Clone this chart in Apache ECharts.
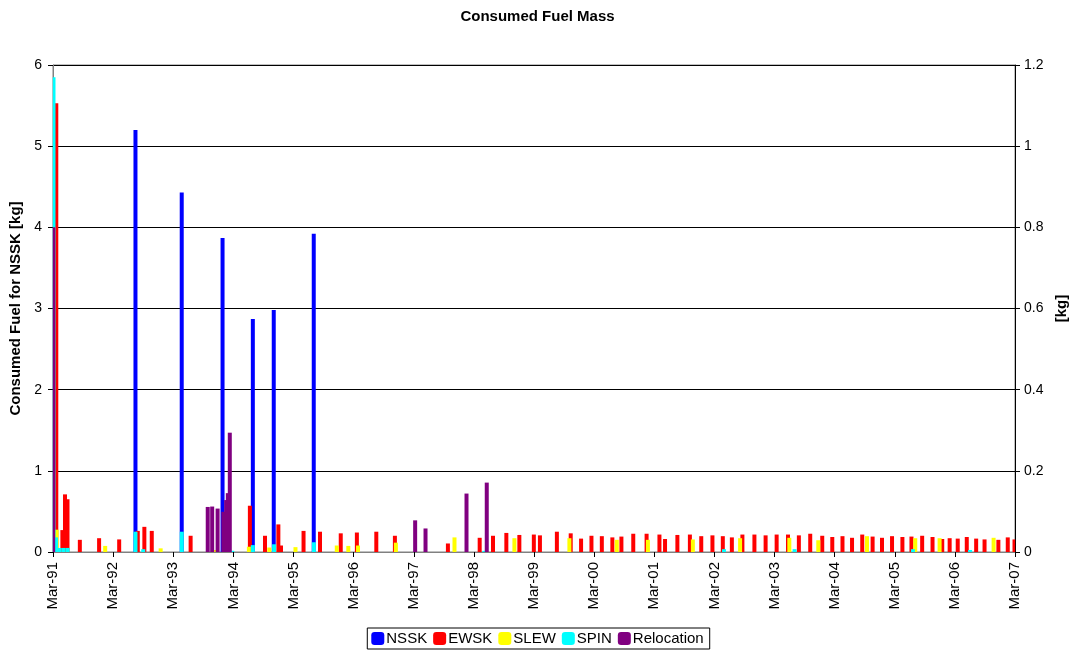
<!DOCTYPE html>
<html>
<head>
<meta charset="utf-8">
<script src="https://cdn.jsdelivr.net/npm/echarts@6/dist/echarts.min.js"></script>
<style>
  html, body { margin: 0; padding: 0; background: #fff; }
  #chart { width: 1075px; height: 653px; }
</style>
</head>
<body>
<div id="chart"></div>
<script>
// Manoeuvre fuel consumption, one bar per manoeuvre date.
// NSSK on the left axis, the other manoeuvre types on the right axis.

const axisStart = '1991-03-01';
const yearLabels = ['Mar-91','Mar-92','Mar-93','Mar-94','Mar-95','Mar-96','Mar-97','Mar-98',
  'Mar-99','Mar-00','Mar-01','Mar-02','Mar-03','Mar-04','Mar-05','Mar-06','Mar-07'];

const nsskData = [
  ['1992-07-14', 5.20], ['1993-04-21', 4.43], ['1993-12-25', 3.87],
  ['1994-06-27', 2.87], ['1994-11-01', 2.98], ['1995-07-02', 3.92]
];

const ewskData = [
  ['1991-03-21', 1.106], ['1991-04-27', 0.054], ['1991-05-13', 0.142], ['1991-05-28', 0.130],
  ['1991-08-11', 0.030], ['1991-12-06', 0.034], ['1992-04-06', 0.031], ['1992-07-28', 0.052],
  ['1992-09-06', 0.062], ['1992-10-21', 0.052], ['1993-06-14', 0.040], ['1994-06-09', 0.114],
  ['1994-09-09', 0.040], ['1994-11-29', 0.068], ['1994-12-15', 0.016], ['1995-05-01', 0.052],
  ['1995-08-09', 0.050], ['1995-12-13', 0.046], ['1996-03-20', 0.048], ['1996-07-16', 0.050],
  ['1996-11-06', 0.040], ['1997-09-24', 0.021], ['1998-04-05', 0.035], ['1998-06-25', 0.040],
  ['1998-09-14', 0.047], ['1998-12-02', 0.042], ['1999-02-28', 0.043], ['1999-04-06', 0.041],
  ['1999-07-18', 0.050], ['1999-10-10', 0.046], ['1999-12-12', 0.033], ['2000-02-13', 0.040],
  ['2000-04-16', 0.039], ['2000-06-19', 0.036], ['2000-08-13', 0.038], ['2000-10-24', 0.045],
  ['2001-01-13', 0.045], ['2001-04-01', 0.043], ['2001-05-05', 0.032], ['2001-07-19', 0.042],
  ['2001-10-03', 0.043], ['2001-12-11', 0.039], ['2002-02-17', 0.041], ['2002-04-21', 0.039],
  ['2002-06-15', 0.036], ['2002-08-18', 0.043], ['2002-10-30', 0.043], ['2003-01-06', 0.041],
  ['2003-03-14', 0.043], ['2003-05-22', 0.043], ['2003-07-27', 0.041], ['2003-10-04', 0.045],
  ['2003-12-16', 0.040], ['2004-02-15', 0.037], ['2004-04-17', 0.039], ['2004-06-14', 0.035],
  ['2004-08-15', 0.043], ['2004-10-17', 0.038], ['2004-12-13', 0.035], ['2005-02-12', 0.039],
  ['2005-04-16', 0.037], ['2005-06-10', 0.038], ['2005-08-14', 0.040], ['2005-10-16', 0.037],
  ['2005-12-14', 0.032], ['2006-01-28', 0.034], ['2006-03-18', 0.033], ['2006-05-12', 0.037],
  ['2006-07-08', 0.033], ['2006-08-28', 0.031], ['2006-11-20', 0.030], ['2007-01-16', 0.036],
  ['2007-02-26', 0.031]
];

const slewData = [
  ['1991-03-23', 0.055], ['1992-01-12', 0.015], ['1992-12-14', 0.009], ['1993-11-05', 0.005],
  ['1994-06-03', 0.013], ['1994-10-05', 0.011], ['1995-03-13', 0.012], ['1995-11-19', 0.016],
  ['1996-01-28', 0.015], ['1996-03-27', 0.016], ['1996-11-12', 0.023], ['1997-11-03', 0.036],
  ['1998-11-02', 0.034], ['1999-10-02', 0.034], ['2000-07-16', 0.030], ['2001-01-21', 0.030],
  ['2001-10-21', 0.031], ['2002-08-04', 0.034], ['2003-05-30', 0.035], ['2003-11-22', 0.029],
  ['2004-09-13', 0.039], ['2005-07-03', 0.034], ['2005-11-28', 0.034], ['2006-10-22', 0.035]
];

const spinData = [
  ['1991-03-04', 1.17], ['1991-03-19', 0.036], ['1991-04-11', 0.010], ['1991-05-05', 0.010],
  ['1991-05-29', 0.010], ['1992-07-14', 0.050], ['1992-08-30', 0.007], ['1993-04-21', 0.050],
  ['1994-02-22', 0.003], ['1994-06-27', 0.017], ['1994-11-03', 0.019], ['1995-07-03', 0.024],
  ['1998-05-04', 0.003], ['2002-04-28', 0.007], ['2003-07-01', 0.007], ['2005-06-19', 0.007],
  ['2006-06-01', 0.005]
];

const relocationData = [
  ['1991-03-02', 0.80], ['1993-09-26', 0.111], ['1993-10-23', 0.112], ['1993-11-25', 0.107],
  ['1993-12-30', 0.099], ['1994-01-16', 0.128], ['1994-01-26', 0.145], ['1994-02-07', 0.294],
  ['1997-03-09', 0.078], ['1997-05-11', 0.058], ['1998-01-15', 0.144], ['1998-05-18', 0.171]
];

// Position along the x axis: years elapsed since the first March tick.
const DAY = 86400000;
function parseDay(s) {
  const p = s.split('-').map(Number);
  return Date.UTC(p[0], p[1] - 1, p[2]);
}
const t0 = parseDay(axisStart);
function toAxis(pairs) {
  return pairs.map(([d, v]) => [(parseDay(d) - t0) / (365.25 * DAY), v]);
}

const FONT = '"Liberation Sans", Arial, sans-serif';

function barSeries(name, color, yAxisIndex, pairs) {
  return {
    name: name,
    type: 'bar',
    xAxisIndex: 0,
    yAxisIndex: yAxisIndex,
    barWidth: 4,
    barGap: '-100%',
    itemStyle: { color: color },
    emphasis: { disabled: true },
    data: toAxis(pairs)
  };
}

const chart = echarts.init(document.getElementById('chart'), null, { renderer: 'canvas' });
chart.setOption({
  animation: false,
  backgroundColor: '#ffffff',
  textStyle: { fontFamily: FONT },
  title: {
    text: 'Consumed Fuel Mass',
    left: 'center',
    top: 4,
    textStyle: { fontFamily: FONT, fontSize: 15, fontWeight: 'bold', color: '#000' }
  },
  grid: {
    left: 53, right: 60, top: 65, bottom: 101,
    containLabel: false,
    outerBoundsMode: 'none',
    show: true, borderColor: '#808080', borderWidth: 1
  },
  legend: {
    bottom: 4,
    left: 'center',
    orient: 'horizontal',
    icon: 'roundRect',
    itemWidth: 13,
    itemHeight: 13,
    itemGap: 6,
    padding: [3, 6, 3, 4],
    borderColor: '#000',
    borderWidth: 1,
    borderRadius: 0,
    textStyle: { fontFamily: FONT, fontSize: 15, color: '#000', padding: [0, 0, 0, -3] },
    data: ['NSSK', 'EWSK', 'SLEW', 'SPIN', 'Relocation']
  },
  xAxis: {
    type: 'value',
    min: 0,
    max: yearLabels.length - 1,
    interval: 1,
    axisLine: { show: true, onZero: false, lineStyle: { color: '#808080', width: 1 } },
    axisTick: { show: true, inside: false, length: 5, lineStyle: { color: '#000' } },
    axisLabel: {
      rotate: 90,
      margin: 10,
      fontFamily: FONT,
      fontSize: 15,
      color: '#000',
      formatter: v => yearLabels[Math.round(v)] || ''
    },
    splitLine: { show: false }
  },
  yAxis: [
    {
      type: 'value',
      position: 'left',
      min: 0, max: 6, interval: 1,
      name: 'Consumed Fuel for NSSK [kg]',
      nameLocation: 'middle',
      nameGap: 29,
      nameTextStyle: { fontFamily: FONT, fontSize: 15, fontWeight: 'bold', color: '#000' },
      axisLine: { show: true, lineStyle: { color: '#808080', width: 1 } },
      axisTick: { show: true, length: 5, lineStyle: { color: '#000' } },
      axisLabel: { fontFamily: FONT, fontSize: 14, color: '#000', margin: 11 },
      splitLine: { show: true, lineStyle: { color: '#000', width: 1 } }
    },
    {
      type: 'value',
      position: 'right',
      min: 0, max: 1.2, interval: 0.2,
      name: '[kg]',
      nameLocation: 'middle',
      nameGap: 39,
      nameRotate: 90,
      nameTextStyle: { fontFamily: FONT, fontSize: 15, fontWeight: 'bold', color: '#000' },
      axisLine: { show: true, lineStyle: { color: '#000', width: 1 } },
      axisTick: { show: true, length: 5, lineStyle: { color: '#000' } },
      axisLabel: {
        fontFamily: FONT, fontSize: 14, color: '#000', margin: 9,
        formatter: v => String(Math.round(v * 10) / 10)
      },
      splitLine: { show: false }
    }
  ],
  series: [
    barSeries('NSSK', '#0000ff', 0, nsskData),
    barSeries('EWSK', '#ff0000', 1, ewskData),
    barSeries('SLEW', '#ffff00', 1, slewData),
    barSeries('SPIN', '#00ffff', 1, spinData),
    barSeries('Relocation', '#800080', 1, relocationData)
  ]
});
</script>
</body>
</html>
